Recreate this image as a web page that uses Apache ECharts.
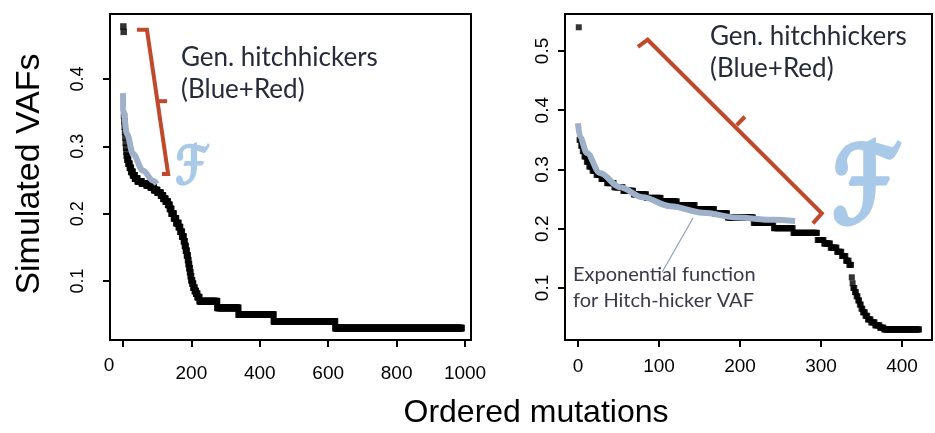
<!DOCTYPE html>
<html>
<head>
<meta charset="utf-8">
<script src="https://cdn.jsdelivr.net/npm/echarts@6/dist/echarts.min.js"></script>
<style>
  html, body { margin: 0; padding: 0; background: #fff; }
  #chart { width: 935px; height: 433px; }
</style>
</head>
<body>
<div id="chart"></div>
<script>
// Sorted simulated VAFs, stored as runs: each level and how many mutations share it
const leftLevels = [0.478, 0.470, 0.345, 0.337, 0.329, 0.321, 0.313, 0.305, 0.298, 0.292,
  0.286, 0.280, 0.274, 0.268, 0.262, 0.257, 0.252, 0.248, 0.245, 0.242, 0.239, 0.235, 0.231,
  0.227, 0.222, 0.218, 0.213, 0.207, 0.200, 0.193, 0.186, 0.180, 0.173, 0.166, 0.159, 0.152,
  0.145, 0.138, 0.131, 0.125, 0.119, 0.113, 0.107, 0.101, 0.096, 0.090, 0.085, 0.081, 0.076,
  0.070, 0.060, 0.050, 0.040, 0.030];
const leftCounts = [1, 1, 1, 1, 1, 1, 1, 1, 1, 1,
  2, 3, 4, 4, 5, 6, 8, 12, 14, 12, 10, 10, 10,
  7, 7, 7, 5, 5, 7, 7, 7, 5, 5, 5, 3, 3,
  3, 3, 2, 2, 2, 2, 2, 3, 3, 4, 4, 4, 6,
  52, 62, 103, 180, 370];

const rightLevels = [0.540, 0.350, 0.340, 0.331, 0.322, 0.313, 0.305, 0.298, 0.291, 0.284,
  0.277, 0.270, 0.264, 0.258, 0.252, 0.246, 0.240, 0.233, 0.226, 0.219, 0.210, 0.201, 0.193,
  0.181, 0.175, 0.168, 0.161, 0.154, 0.146, 0.139, 0.118, 0.108, 0.100, 0.093, 0.086, 0.079,
  0.072, 0.065, 0.059, 0.053, 0.047, 0.042, 0.037, 0.033, 0.030];
const rightCounts = [1, 2, 2, 2, 3, 3, 4, 5, 6, 7,
  9, 11, 13, 16, 18, 20, 22, 24, 16, 32, 25, 24, 30,
  8, 8, 8, 6, 5, 4, 3, 1, 1, 2, 2, 2, 2,
  2, 2, 3, 3, 4, 5, 6, 5, 44];

// Fitted hitch-hicker curve (exponential function), sampled along its length
const leftFitX = [0, 0.5, 12, 29, 58, 88, 99];
const leftFitY = [0.379, 0.353, 0.318, 0.289, 0.264, 0.249, 0.244];
const rightFitX = [0, 2.5, 11, 27, 52, 80, 114, 154, 196, 241, 268];
const rightFitY = [0.378, 0.355, 0.328, 0.294, 0.270, 0.253, 0.238, 0.227, 0.219, 0.215, 0.213];

// Bracket marking the generation of hitch-hickers: [x, VAF] corners plus a middle tick
const leftBracket = [[41, 0.473], [70, 0.473], [132, 0.259], [114, 0.259]];
const leftBracketTick = [[99, 0.367], [129, 0.367]];
const rightBracket = [[74, 0.507], [86, 0.519], [301, 0.226], [290, 0.209]];
const rightBracketTick = [[196, 0.375], [206, 0.389]];
const rightLeader = [[142, 0.218], [104, 0.127]];

// Tick labels
const leftXTicks = [0, 200, 400, 600, 800, 1000];
const leftYTicks = [0.1, 0.2, 0.3, 0.4];
const rightXTicks = [0, 100, 200, 300, 400];
const rightYTicks = [0.1, 0.2, 0.3, 0.4, 0.5];

function expandRuns(levels, counts) {
  const pts = [];
  let idx = 1;
  levels.forEach((v, k) => {
    for (let c = 0; c < counts[k]; c++) { pts.push([idx, v]); idx++; }
  });
  return pts;
}
function zip(xs, ys) { return xs.map((x, i) => [x, ys[i]]); }

const RED = '#c1492b';
const FIT = '#9fb0c9';
const TXT = '#262a3a';
const FONT = 'Liberation Sans';
const SCRIPT_F = '#a9c9e9';

function xAxisCfg(gridIndex, min, max, ticks, margin, rich, fmt) {
  return {
    type: 'value', gridIndex, min, max,
    axisLine: { show: false, onZero: false },
    splitLine: { show: false },
    axisTick: { show: true, inside: false, length: 7, customValues: ticks, lineStyle: { color: '#000', width: 2 } },
    axisLabel: { show: true, customValues: ticks, margin, color: '#000', fontFamily: FONT, fontSize: 19,
      formatter: fmt, rich }
  };
}
function yAxisCfg(gridIndex, min, max, ticks, margin, size) {
  return {
    type: 'value', gridIndex, min, max,
    axisLine: { show: false, onZero: false },
    splitLine: { show: false },
    axisTick: { show: true, inside: false, length: 7, customValues: ticks, lineStyle: { color: '#000', width: 2 } },
    axisLabel: { show: true, customValues: ticks, margin, rotate: 90, color: '#000', fontFamily: FONT, fontSize: size,
      formatter: v => v.toFixed(1) }
  };
}

const chart = echarts.init(document.getElementById('chart'), null, { renderer: 'canvas' });
chart.setOption({
  animation: false,
  backgroundColor: '#fff',
  grid: [
    { left: 110, top: 14, width: 361, height: 326, show: true, borderColor: '#000', borderWidth: 2, backgroundColor: 'transparent' },
    { left: 565, top: 14, width: 367, height: 326, show: true, borderColor: '#000', borderWidth: 2, backgroundColor: 'transparent' }
  ],
  xAxis: [
    xAxisCfg(0, -38, 1017.5, leftXTicks, 12,
      { z: { fontFamily: FONT, fontSize: 19, padding: [4, 28, 0, 0] },
        n: { fontFamily: FONT, fontSize: 19, padding: [12, 0, 0, 0] } },
      v => v === 0 ? '{z|0}' : '{n|' + v + '}'),
    xAxisCfg(1, -16, 437, rightXTicks, 17, undefined, v => String(v))
  ],
  yAxis: [
    yAxisCfg(0, 0.0123, 0.4965, leftYTicks, 23, 18),
    yAxisCfg(1, 0.0122, 0.5624, rightYTicks, 13, 19)
  ],
  series: [
    { type: 'scatter', xAxisIndex: 0, yAxisIndex: 0, data: expandRuns(leftLevels, leftCounts),
      symbol: 'rect', symbolSize: 6.5, itemStyle: { color: '#000' }, silent: true, z: 2 },
    { type: 'scatter', xAxisIndex: 1, yAxisIndex: 1, data: expandRuns(rightLevels, rightCounts),
      symbol: 'rect', symbolSize: 6, itemStyle: { color: '#000' }, silent: true, z: 2 },
    { type: 'line', xAxisIndex: 0, yAxisIndex: 0, data: zip(leftFitX, leftFitY), smooth: 0.35, smoothMonotone: 'x',
      showSymbol: false, lineStyle: { color: FIT, width: 6, cap: 'butt' }, silent: true, z: 3 },
    { type: 'line', xAxisIndex: 1, yAxisIndex: 1, data: zip(rightFitX, rightFitY), smooth: 0.35, smoothMonotone: 'x',
      showSymbol: false, lineStyle: { color: FIT, width: 6, cap: 'butt' }, silent: true, z: 3 },
    { type: 'line', xAxisIndex: 0, yAxisIndex: 0, data: leftBracket, showSymbol: false,
      lineStyle: { color: RED, width: 4, cap: 'butt', join: 'miter' }, silent: true, z: 4 },
    { type: 'line', xAxisIndex: 0, yAxisIndex: 0, data: leftBracketTick, showSymbol: false,
      lineStyle: { color: RED, width: 4, cap: 'butt' }, silent: true, z: 4 },
    { type: 'line', xAxisIndex: 1, yAxisIndex: 1, data: rightBracket, showSymbol: false,
      lineStyle: { color: RED, width: 4, cap: 'butt', join: 'miter' }, silent: true, z: 4 },
    { type: 'line', xAxisIndex: 1, yAxisIndex: 1, data: rightBracketTick, showSymbol: false,
      lineStyle: { color: RED, width: 4, cap: 'butt' }, silent: true, z: 4 },
    { type: 'line', xAxisIndex: 1, yAxisIndex: 1, data: rightLeader, showSymbol: false,
      lineStyle: { color: '#8fa0bf', width: 1.2 }, silent: true, z: 4 }
  ],
  graphic: [
    { type: 'text', x: 30, y: 174, rotation: Math.PI / 2,
      style: { text: 'Simulated VAFs', fontFamily: FONT, fontSize: 34, fill: '#000', align: 'center', verticalAlign: 'middle' } },
    { type: 'text', x: 536, y: 413,
      style: { text: 'Ordered mutations', fontFamily: FONT, fontSize: 32, fill: '#000', align: 'center', verticalAlign: 'middle' } },
    { type: 'text', x: 181, y: 74,
      style: { text: 'Gen. hitchhickers\n(Blue+Red)', fontFamily: 'Lato', fontSize: 26, lineHeight: 32, fill: TXT, align: 'left', verticalAlign: 'middle' } },
    { type: 'text', x: 710, y: 53,
      style: { text: 'Gen. hitchhickers\n(Blue+Red)', fontFamily: 'Lato', fontSize: 26, lineHeight: 32, fill: TXT, align: 'left', verticalAlign: 'middle' } },
    { type: 'text', x: 573, y: 288,
      style: { text: 'Exponential function\nfor Hitch-hicker VAF', fontFamily: 'Lato', fontSize: 20, lineHeight: 26, fill: '#3a3a4a', align: 'left', verticalAlign: 'middle' } },
    { type: 'text', x: 191, y: 170, scaleX: 0.85, scaleY: 1.15,
      style: { text: '\u2131', fontFamily: 'DejaVu Sans', fontWeight: 'bold', fontStyle: 'italic', fontSize: 46, fill: SCRIPT_F,
        stroke: SCRIPT_F, lineWidth: 1.5, align: 'center', verticalAlign: 'middle' } },
    { type: 'text', x: 864, y: 195, scaleX: 0.88, scaleY: 1.2,
      style: { text: '\u2131', fontFamily: 'DejaVu Sans', fontWeight: 'bold', fontStyle: 'italic', fontSize: 90, fill: SCRIPT_F,
        stroke: SCRIPT_F, lineWidth: 3, align: 'center', verticalAlign: 'middle' } }
  ]
});
</script>
</body>
</html>
